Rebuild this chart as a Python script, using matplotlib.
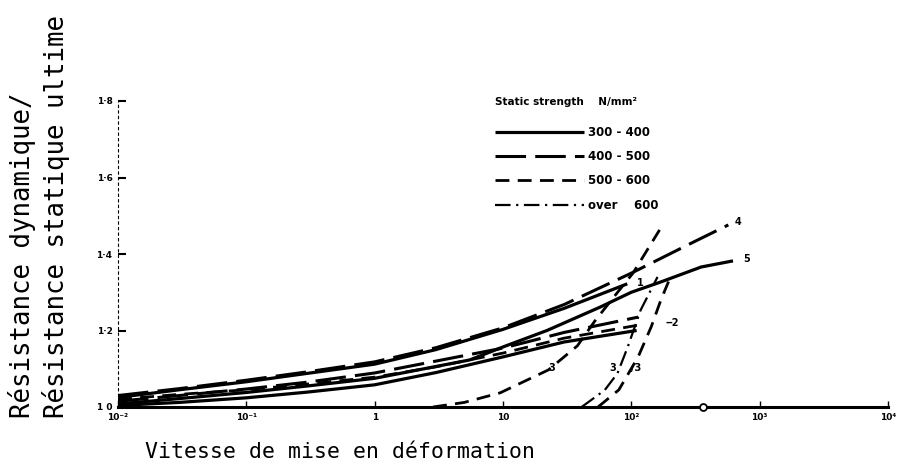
import matplotlib
matplotlib.use("Agg")
import matplotlib.pyplot as plt
from matplotlib.lines import Line2D

# ---- data ----
# curve ending at label "1" (solid, 300-400)
c1_x = [0.01, 0.03, 0.1, 0.3, 1, 3, 10, 30, 93]
c1_y = [1.025, 1.045, 1.066, 1.088, 1.112, 1.150, 1.203, 1.258, 1.322]
# curve 4 (long dash, 400-500)
c4_x = [0.01, 0.03, 0.1, 0.3, 1, 3, 10, 30, 100, 300, 570]
c4_y = [1.030, 1.048, 1.070, 1.092, 1.118, 1.155, 1.207, 1.268, 1.350, 1.430, 1.476]
# curve 5 (solid, 300-400)
c5_x = [0.01, 0.03, 0.1, 0.3, 1, 5.5, 10, 22, 57, 100, 170, 350, 620]
c5_y = [1.008, 1.022, 1.038, 1.055, 1.075, 1.123, 1.157, 1.200, 1.261, 1.300, 1.327, 1.366, 1.382]
# curves ending at label "2"
c2a_x = [0.01, 0.03, 0.1, 0.3, 1, 3, 10, 30, 113]
c2a_y = [1.015, 1.030, 1.047, 1.065, 1.089, 1.120, 1.154, 1.195, 1.235]
c2b_x = [0.01, 0.03, 0.1, 0.3, 1, 3, 10, 30, 113]
c2b_y = [1.020, 1.033, 1.045, 1.060, 1.078, 1.105, 1.141, 1.180, 1.214]
c2c_x = [0.01, 0.03, 0.1, 0.3, 1, 3, 10, 30, 110]
c2c_y = [1.004, 1.012, 1.024, 1.039, 1.058, 1.090, 1.131, 1.170, 1.200]
# curves labelled "3"
c3a_x = [2.85, 5, 9.5, 22.6, 38, 52, 74, 103, 166]
c3a_y = [1.000, 1.012, 1.037, 1.097, 1.160, 1.225, 1.290, 1.350, 1.463]
c3b_x = [41, 62, 78, 94, 118, 160]
c3b_y = [1.000, 1.044, 1.088, 1.158, 1.253, 1.340]
c3c_x = [55, 80, 113, 143, 170, 195]
c3c_y = [1.000, 1.045, 1.131, 1.210, 1.280, 1.328]
# point on the baseline
circ_x = [360]
circ_y = [1.0]

legend_labels = ["300 - 400", "400 - 500", "500 - 600", "over    600"]
legend_title = "Static strength    N/mm²"
yticks = [1.0, 1.2, 1.4, 1.6, 1.8]
ytick_labels = ["1 0", "1·2", "1·4", "1·6", "1·8"]
xticks = [1e-2, 1e-1, 1, 10, 1e2, 1e3, 1e4]
xtick_labels = ["10⁻²", "10⁻¹", "1", "10", "10²", "10³", "10⁴"]
curve_labels = [("1", 111, 1.324), ("‒2", 185, 1.220), ("3", 22.5, 1.102),
                ("3", 68, 1.102), ("/3", 100, 1.102), ("4", 640, 1.484),
                ("5", 745, 1.387)]

# ---- styles ----
solid = dict(color="black", lw=2.3, linestyle="-", solid_capstyle="butt")
longdash = dict(color="black", lw=2.2, linestyle=(0, (10, 3)))
dashed = dict(color="black", lw=2.0, linestyle=(0, (5, 3)))
dashdot = dict(color="black", lw=1.6, linestyle=(0, (7, 2.5, 1, 2.5)))

W, H = 899, 472
fig = plt.figure(figsize=(W / 100, H / 100), dpi=100)
ax = fig.add_axes([118 / W, 1 - 407 / H, (888 - 118) / W, (407 - 101) / H])
ax.set_xscale("log")
ax.set_xlim(1e-2, 1e4)
ax.set_ylim(1.0, 1.8)

ax.plot(c1_x, c1_y, **solid)
ax.plot(c4_x, c4_y, **longdash)
ax.plot(c5_x, c5_y, **solid)
ax.plot(c2a_x, c2a_y, **longdash)
ax.plot(c2b_x, c2b_y, **dashed)
ax.plot(c2c_x, c2c_y, **solid)
ax.plot(c3a_x, c3a_y, **dashed)
ax.plot(c3b_x, c3b_y, **dashdot)
ax.plot(c3c_x, c3c_y, **dashed)
ax.plot(circ_x, circ_y, marker="o", ms=5, mfc="white", mec="black", mew=1.3,
        linestyle="none", zorder=5, clip_on=False)

for txt, x, y in curve_labels:
    ax.text(x, y, txt, fontsize=7, fontweight="bold", ha="left", va="center")

for s in ["top", "right"]:
    ax.spines[s].set_visible(False)
ax.spines["bottom"].set_linewidth(2.2)
ax.spines["left"].set_linewidth(0.8)
ax.spines["left"].set_linestyle((0, (2, 3)))

ax.set_yticks(yticks)
ax.set_yticklabels(ytick_labels, fontsize=6.5, fontweight="bold")
ax.set_xticks(xticks)
ax.set_xticklabels(xtick_labels, fontsize=6.5, fontweight="bold")
ax.minorticks_off()
ax.tick_params(axis="y", direction="in", length=6, width=1.5, pad=4)
ax.tick_params(axis="x", direction="in", length=4, width=1.0, pad=4)

handles = [Line2D([], [], **solid), Line2D([], [], **longdash),
           Line2D([], [], **dashed), Line2D([], [], **dashdot)]
leg = ax.legend(handles, legend_labels, loc="upper left",
                bbox_to_anchor=(495 / W, 1 - 126 / H), bbox_transform=fig.transFigure,
                frameon=False, prop=dict(size=8.5, weight="bold"),
                handlelength=7.5, handletextpad=0.35, labelspacing=0.95,
                borderpad=0, borderaxespad=0)
fig.text(495 / W, 1 - 102 / H, legend_title, fontsize=7.5, fontweight="bold",
         ha="left", va="center")

mono = "DejaVu Sans Mono"
fig.text(22 / W, 1 - 418 / H, "Résistance dynamique/", rotation=90,
         family=mono, fontsize=18.5, ha="center", va="bottom")
fig.text(56 / W, 1 - 418 / H, "Résistance statique ultime", rotation=90,
         family=mono, fontsize=18.5, ha="center", va="bottom")
fig.text(145 / W, 1 - 452 / H, "Vitesse de mise en déformation",
         family=mono, fontsize=15.5, ha="left", va="center")

fig.savefig("out.png", dpi=100)
